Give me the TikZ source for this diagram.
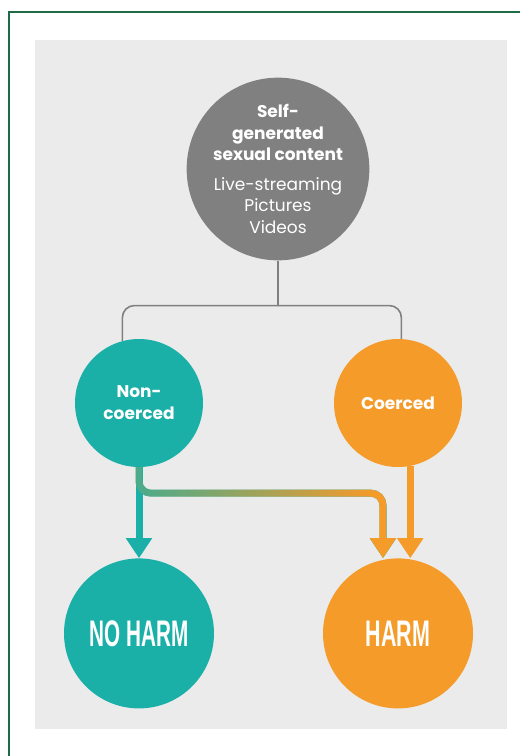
\documentclass[tikz,border=0pt]{standalone}
\usepackage{fontspec}
\setmainfont{Poppins}
\newfontfamily\harmfont{Liberation Sans}
\usepackage{xcolor}
\usetikzlibrary{arrows.meta, positioning, fadings}

\definecolor{frameg}{HTML}{1E6B45}
\definecolor{panel}{HTML}{EBEBEB}
\definecolor{srcgray}{HTML}{808080}
\definecolor{tealc}{HTML}{1AB0A8}
\definecolor{orangec}{HTML}{F49B2A}

\begin{tikzfadingfrompicture}[name=tealfade]
  \fill[transparent!100] (-50bp,-50bp) rectangle (-38bp,50bp);
  \shade[left color=transparent!100, right color=transparent!0] (-38bp,-50bp) rectangle (22bp,50bp);
  \fill[transparent!0] (22bp,-50bp) rectangle (50bp,50bp);
\end{tikzfadingfrompicture}

\begin{document}
\begin{tikzpicture}[x=1pt, y=1pt,
    blob/.style={circle, inner sep=0pt, text=white, align=center},
    branch/.style={draw=srcgray, line width=1.6pt},
    flow/.style={line width=7pt, -{Triangle[length=20pt, width=25pt]}},
    harmlbl/.style={font=\harmfont\bfseries\fontsize{37}{37}\selectfont}]
  \useasboundingbox (0,0) rectangle (520,-756);
  \fill[panel] (35,-40) rectangle (507,-729);
  \draw[frameg, line width=1.8pt] (520,-12) -- (9,-12) -- (9,-756);

  \node[blob, fill=srcgray, minimum size=180pt, font=\fontsize{17}{21.5}\selectfont] (src) at (278,-169)
    {\bfseries Self-\\\bfseries generated\\\bfseries sexual content\\[8pt]
     Live-streaming\\Pictures\\Videos};
  \node[blob, fill=tealc, minimum size=128pt, font=\bfseries\fontsize{17}{22}\selectfont] (noncoer) at (139,-403) {Non-\\coerced};
  \node[blob, fill=orangec, minimum size=128pt, font=\bfseries\fontsize{17}{22}\selectfont] (coer) at (398,-403) {Coerced};
  \node[blob, fill=tealc, minimum size=150pt, below=91pt of noncoer, harmlbl] (noharm) {\scalebox{0.56}[1]{NO HARM}};
  \node[blob, fill=orangec, minimum size=150pt, below=91pt of coer, harmlbl] (harm) {\scalebox{0.58}[1]{HARM}};

  % split from the source
  \draw[branch] (src.south) -- ++(0,-45) coordinate (fork);
  \draw[branch, rounded corners=12pt] (fork) -| (noncoer.105);
  \draw[branch, rounded corners=12pt] (fork) -| (coer.87);

  % outcomes
  \draw[flow, tealc] (noncoer.south) -- (noharm.north);
  \draw[flow, tealc, rounded corners=12pt] (noncoer.south) |- ([xshift=-15pt, yshift=65pt]harm.north) -- ([xshift=-15pt]harm.north);
  \draw[flow, orangec, rounded corners=12pt, path fading=tealfade] (noncoer.south) |- ([xshift=-15pt, yshift=65pt]harm.north) -- ([xshift=-15pt]harm.north);
  \draw[flow, orangec] (coer.-79) -- (coer.-79 |- harm.north);
\end{tikzpicture}
\end{document}
